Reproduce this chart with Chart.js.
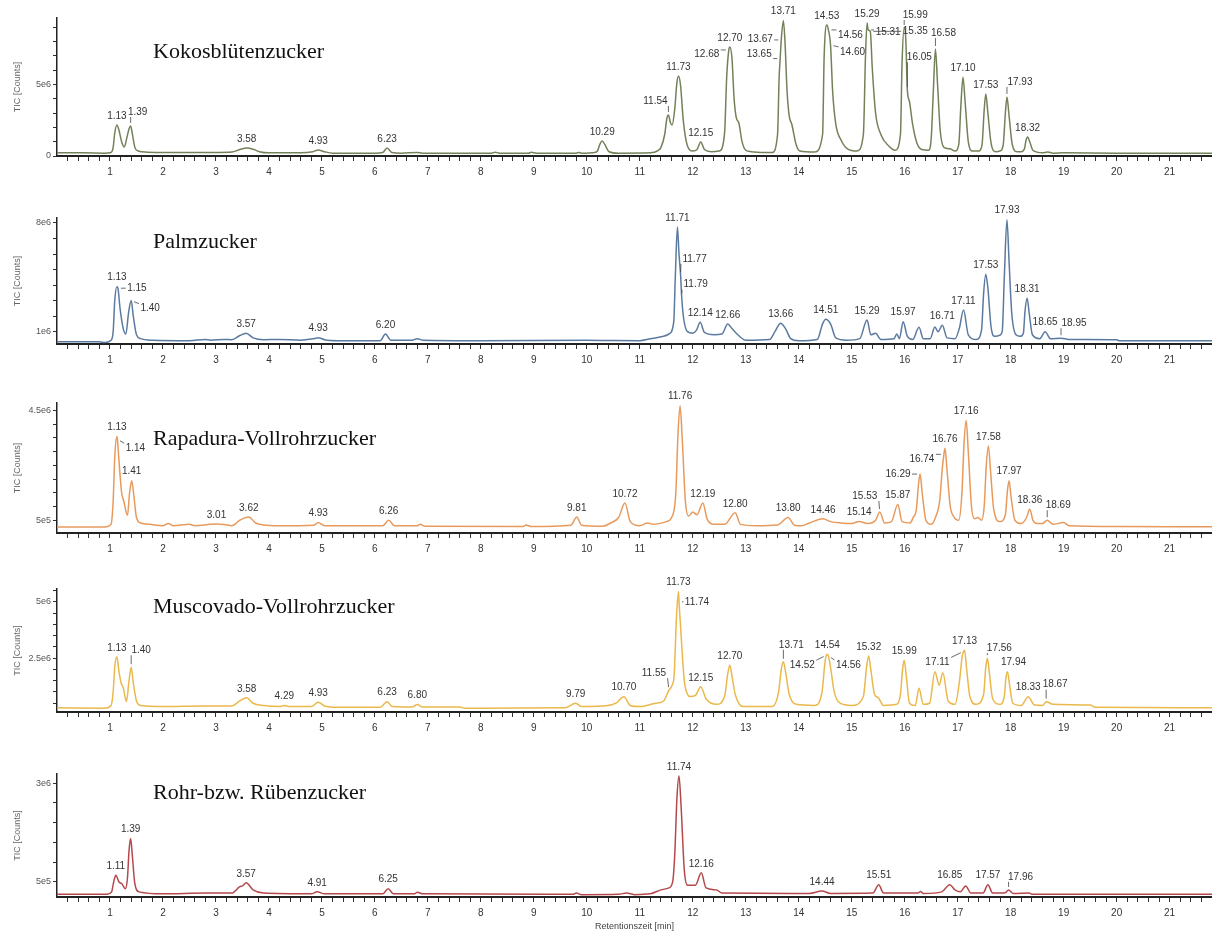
<!DOCTYPE html>
<html>
<head>
<meta charset="utf-8">
<script src="https://cdn.jsdelivr.net/npm/chart.js@4.4.1/dist/chart.umd.min.js"></script>
<style>
  html, body { margin: 0; padding: 0; background: #fff; }
  #wrap { position: relative; width: 1212px; height: 934px; overflow: hidden; }
  #wrap canvas { position: absolute; left: 0; }
</style>
</head>
<body>
<div id="wrap"></div>
<script>
// Retentionszeit [min], TIC in Mio. Counts
const kokosTrace = [
  [0, 0.22], [0.5, 0.22], [0.9, 0.2], [1.02, 0.25], [1.06, 0.6], [1.09, 1.6], [1.13, 2.16], [1.17, 1.8],
  [1.22, 1.0], [1.27, 0.63], [1.32, 1.3], [1.36, 1.9], [1.39, 2.1], [1.42, 1.6], [1.47, 0.6], [1.53, 0.35],
  [1.7, 0.27], [2.0, 0.24], [2.5, 0.24], [3.0, 0.25], [3.3, 0.28], [3.45, 0.45], [3.58, 0.56], [3.72, 0.45],
  [3.82, 0.3], [4.0, 0.22], [4.6, 0.22], [4.83, 0.3], [4.93, 0.42], [5.05, 0.3], [5.2, 0.2], [6.0, 0.2],
  [6.15, 0.25], [6.23, 0.56], [6.32, 0.24], [6.5, 0.2], [6.8, 0.25], [6.9, 0.2], [8.2, 0.2], [8.27, 0.27],
  [8.35, 0.2], [8.9, 0.2], [8.95, 0.26], [9.05, 0.2], [9.8, 0.2], [9.85, 0.25], [9.9, 0.2], [10.15, 0.25],
  [10.2, 0.35], [10.25, 0.85], [10.29, 1.05], [10.34, 0.8], [10.42, 0.3], [10.6, 0.2], [11.2, 0.22], [11.35, 0.4],
  [11.4, 0.6], [11.47, 1.5], [11.51, 2.6], [11.54, 2.86], [11.58, 2.3], [11.61, 2.16], [11.66, 3.3], [11.70, 5.1],
  [11.73, 5.58], [11.77, 4.9], [11.82, 2.5], [11.9, 0.7], [12.0, 0.35], [12.08, 0.45], [12.15, 0.98], [12.22, 0.45],
  [12.35, 0.3], [12.5, 0.35], [12.6, 1.6], [12.64, 5.5], [12.68, 7.4], [12.70, 7.6], [12.74, 6.8], [12.78, 4.0],
  [12.82, 2.7], [12.87, 2.3], [12.93, 1.0], [13.0, 0.4], [13.1, 0.3], [13.3, 0.25], [13.5, 0.25], [13.6, 1.5],
  [13.63, 5.5], [13.65, 6.8], [13.67, 8.1], [13.71, 9.44], [13.74, 8.0], [13.78, 4.5], [13.82, 2.8], [13.87, 2.2],
  [13.95, 0.8], [14.02, 0.35], [14.3, 0.28], [14.45, 1.5], [14.48, 7.0], [14.53, 9.14], [14.56, 8.8], [14.60, 7.75],
  [14.64, 4.5], [14.7, 2.2], [14.8, 1.1], [14.92, 0.5], [15.1, 0.35], [15.22, 1.5], [15.26, 7.0], [15.29, 9.28],
  [15.31, 8.8], [15.35, 8.7], [15.39, 6.0], [15.45, 3.0], [15.55, 1.5], [15.7, 0.7], [15.82, 0.4], [15.92, 1.5],
  [15.95, 6.5], [15.99, 8.93], [16.02, 8.2], [16.05, 4.6], [16.09, 3.8], [16.15, 2.2], [16.23, 0.9], [16.32, 0.45],
  [16.45, 0.4], [16.5, 1.2], [16.54, 4.5], [16.58, 7.47], [16.62, 5.0], [16.67, 1.8], [16.74, 0.6], [16.85, 0.5],
  [16.95, 0.35], [17.02, 0.8], [17.06, 3.5], [17.10, 5.5], [17.14, 3.8], [17.2, 1.0], [17.28, 0.35], [17.4, 0.35],
  [17.46, 0.8], [17.5, 3.2], [17.53, 4.33], [17.57, 3.0], [17.63, 0.9], [17.72, 0.3], [17.8, 0.35], [17.86, 0.8],
  [17.9, 3.0], [17.93, 4.12], [17.97, 2.8], [18.03, 0.8], [18.12, 0.3], [18.2, 0.3], [18.26, 0.5], [18.29, 1.1],
  [18.32, 1.33], [18.36, 1.0], [18.42, 0.4], [18.6, 0.22], [18.7, 0.28], [18.8, 0.2], [19.0, 0.22], [20.0, 0.2],
  [21.8, 0.2]
];
const palmTrace = [
  [0, 0.35], [0.8, 0.35], [0.9, 0.3], [1.02, 0.45], [1.06, 1.0], [1.09, 3.0], [1.13, 3.9], [1.15, 3.8],
  [1.19, 2.5], [1.25, 1.2], [1.3, 0.85], [1.35, 2.2], [1.40, 3.0], [1.44, 2.0], [1.5, 0.8], [1.58, 0.55],
  [1.8, 0.45], [2.5, 0.42], [2.8, 0.5], [2.9, 0.45], [3.15, 0.5], [3.3, 0.48], [3.45, 0.75], [3.57, 0.9],
  [3.7, 0.6], [3.9, 0.48], [4.2, 0.5], [4.6, 0.45], [4.85, 0.55], [4.93, 0.61], [5.05, 0.48], [5.3, 0.42],
  [6.1, 0.42], [6.2, 0.85], [6.3, 0.45], [6.7, 0.45], [6.8, 0.55], [6.9, 0.45], [8.0, 0.42], [10.0, 0.45],
  [10.5, 0.43], [11.0, 0.42], [11.2, 0.55], [11.45, 0.7], [11.55, 0.85], [11.64, 1.6], [11.67, 4.5], [11.71, 7.74],
  [11.74, 6.0], [11.77, 4.66], [11.79, 3.26], [11.83, 1.8], [11.9, 1.0], [12.0, 0.9], [12.07, 1.1], [12.14, 1.6],
  [12.22, 0.95], [12.4, 0.8], [12.55, 0.85], [12.66, 1.5], [12.74, 1.2], [12.85, 0.8], [13.0, 0.45], [13.45, 0.5],
  [13.55, 1.0], [13.66, 1.55], [13.75, 1.2], [13.85, 0.55], [14.0, 0.42], [14.35, 0.5], [14.45, 1.5], [14.51, 1.8],
  [14.6, 1.5], [14.7, 0.6], [14.9, 0.45], [15.15, 0.55], [15.29, 1.75], [15.36, 0.8], [15.45, 0.9], [15.55, 0.5],
  [15.8, 0.55], [15.85, 0.85], [15.9, 0.55], [15.97, 1.64], [16.05, 0.7], [16.15, 0.5], [16.27, 1.28], [16.35, 0.55],
  [16.48, 0.55], [16.57, 1.3], [16.63, 1.0], [16.71, 1.41], [16.8, 0.6], [16.95, 0.55], [17.03, 1.2], [17.11, 2.4],
  [17.2, 0.8], [17.35, 0.5], [17.45, 1.1], [17.49, 3.5], [17.53, 4.7], [17.57, 3.8], [17.63, 1.3], [17.7, 0.7],
  [17.78, 0.75], [17.84, 1.0], [17.88, 4.5], [17.93, 8.21], [17.97, 5.5], [18.02, 2.2], [18.1, 0.8], [18.18, 0.7],
  [18.24, 0.9], [18.27, 2.3], [18.31, 3.15], [18.35, 2.2], [18.41, 0.8], [18.55, 0.55], [18.65, 1.0], [18.75, 0.55],
  [18.95, 0.58], [19.1, 0.5], [20.0, 0.48], [20.05, 0.42], [21.8, 0.42]
];
const rapaduraTrace = [
  [0, 0.25], [0.9, 0.25], [1.02, 0.35], [1.06, 1.2], [1.09, 2.8], [1.13, 3.55], [1.14, 3.45], [1.18, 2.4],
  [1.22, 1.5], [1.26, 1.2], [1.33, 0.68], [1.37, 1.5], [1.41, 1.94], [1.45, 1.4], [1.5, 0.6], [1.58, 0.4],
  [1.75, 0.35], [2.0, 0.3], [2.1, 0.38], [2.2, 0.3], [2.5, 0.35], [2.6, 0.3], [2.9, 0.35], [3.01, 0.36],
  [3.2, 0.33], [3.3, 0.3], [3.45, 0.5], [3.62, 0.62], [3.75, 0.4], [3.9, 0.33], [4.2, 0.3], [4.85, 0.32],
  [4.93, 0.42], [5.05, 0.3], [6.15, 0.3], [6.26, 0.5], [6.37, 0.3], [6.8, 0.3], [6.85, 0.35], [6.95, 0.28],
  [8.8, 0.27], [8.85, 0.33], [8.95, 0.27], [9.7, 0.32], [9.81, 0.62], [9.9, 0.32], [10.3, 0.28], [10.45, 0.4],
  [10.6, 0.6], [10.72, 1.13], [10.82, 0.45], [11.0, 0.3], [11.15, 0.4], [11.25, 0.35], [11.5, 0.45], [11.6, 0.6],
  [11.68, 1.5], [11.72, 3.6], [11.76, 4.67], [11.8, 3.5], [11.86, 1.2], [11.92, 0.65], [12.0, 0.8], [12.08, 0.7],
  [12.19, 1.13], [12.27, 0.55], [12.4, 0.35], [12.6, 0.35], [12.80, 0.77], [12.9, 0.35], [13.2, 0.3], [13.6, 0.33],
  [13.80, 0.6], [13.92, 0.32], [14.05, 0.3], [14.2, 0.4], [14.46, 0.55], [14.6, 0.45], [14.8, 0.4], [15.0, 0.38],
  [15.14, 0.45], [15.3, 0.38], [15.45, 0.5], [15.53, 0.8], [15.62, 0.4], [15.75, 0.45], [15.87, 1.07], [15.95, 0.45],
  [16.1, 0.4], [16.16, 0.6], [16.22, 0.9], [16.26, 1.8], [16.29, 2.18], [16.33, 1.5], [16.4, 0.5], [16.5, 0.35],
  [16.6, 0.7], [16.66, 1.2], [16.71, 2.4], [16.74, 2.9], [16.76, 3.12], [16.8, 2.3], [16.86, 1.0], [16.92, 0.65],
  [17.02, 0.5], [17.08, 1.5], [17.12, 3.3], [17.16, 4.13], [17.2, 3.0], [17.26, 1.0], [17.32, 0.55], [17.38, 0.6],
  [17.45, 0.5], [17.5, 1.0], [17.54, 2.5], [17.58, 3.2], [17.62, 2.3], [17.68, 0.9], [17.8, 0.45], [17.9, 0.7],
  [17.94, 1.6], [17.97, 1.94], [18.01, 1.3], [18.08, 0.5], [18.2, 0.38], [18.3, 0.6], [18.36, 0.9], [18.42, 0.5],
  [18.5, 0.38], [18.6, 0.38], [18.69, 0.5], [18.8, 0.35], [19.0, 0.42], [19.1, 0.3], [20.0, 0.27], [21.8, 0.26]
];
const muscovadoTrace = [
  [0, 0.3], [0.9, 0.28], [1.02, 0.4], [1.06, 1.0], [1.09, 2.1], [1.13, 2.56], [1.17, 1.9], [1.21, 1.4],
  [1.25, 1.2], [1.31, 0.57], [1.36, 1.5], [1.40, 2.1], [1.44, 1.4], [1.5, 0.6], [1.58, 0.4], [2.0, 0.35],
  [2.8, 0.38], [3.3, 0.38], [3.45, 0.6], [3.58, 0.74], [3.7, 0.5], [3.9, 0.4], [4.2, 0.35], [4.29, 0.4],
  [4.4, 0.35], [4.8, 0.35], [4.93, 0.54], [5.05, 0.38], [5.3, 0.32], [6.1, 0.32], [6.23, 0.57], [6.33, 0.35],
  [6.7, 0.33], [6.80, 0.44], [6.9, 0.33], [7.6, 0.33], [7.7, 0.28], [9.6, 0.3], [9.79, 0.5], [9.9, 0.35],
  [10.4, 0.4], [10.55, 0.5], [10.70, 0.79], [10.82, 0.4], [11.0, 0.35], [11.3, 0.5], [11.45, 0.6], [11.55, 1.08],
  [11.61, 1.3], [11.65, 1.8], [11.69, 4.2], [11.73, 5.46], [11.74, 5.0], [11.78, 3.5], [11.84, 1.5], [11.9, 0.9],
  [11.95, 0.8], [12.05, 0.85], [12.15, 1.23], [12.25, 0.7], [12.45, 0.45], [12.6, 0.8], [12.66, 1.8], [12.70, 2.19],
  [12.74, 1.7], [12.8, 0.9], [12.95, 0.35], [13.5, 0.35], [13.62, 1.0], [13.67, 2.0], [13.71, 2.34], [13.75, 1.9],
  [13.82, 0.9], [13.95, 0.45], [14.3, 0.4], [14.44, 1.0], [14.49, 2.2], [14.52, 2.63], [14.54, 2.66], [14.56, 2.6],
  [14.6, 2.1], [14.67, 1.0], [14.78, 0.5], [15.0, 0.4], [15.22, 0.8], [15.28, 2.1], [15.32, 2.6], [15.36, 2.0],
  [15.43, 0.9], [15.5, 0.75], [15.6, 0.4], [15.85, 0.45], [15.92, 0.9], [15.96, 2.0], [15.99, 2.41], [16.03, 1.7],
  [16.09, 0.5], [16.2, 0.4], [16.27, 1.16], [16.35, 0.45], [16.47, 0.5], [16.57, 1.9], [16.65, 1.3], [16.72, 1.85],
  [16.82, 0.6], [16.95, 0.45], [17.04, 1.6], [17.08, 2.5], [17.11, 2.8], [17.13, 2.85], [17.17, 2.0], [17.23, 0.8],
  [17.35, 0.45], [17.49, 0.9], [17.53, 2.1], [17.56, 2.5], [17.6, 1.8], [17.66, 0.7], [17.8, 0.45], [17.88, 0.8],
  [17.91, 1.6], [17.94, 1.9], [17.98, 1.3], [18.04, 0.5], [18.2, 0.4], [18.33, 0.79], [18.45, 0.42], [18.6, 0.4],
  [18.67, 0.57], [18.8, 0.45], [19.5, 0.42], [19.6, 0.32], [21.8, 0.3]
];
const rohrTrace = [
  [0, 0.19], [0.95, 0.19], [1.03, 0.25], [1.07, 0.5], [1.11, 0.67], [1.17, 0.5], [1.22, 0.46], [1.29, 0.33],
  [1.33, 0.6], [1.36, 1.3], [1.39, 1.6], [1.42, 1.2], [1.47, 0.45], [1.55, 0.25], [2.0, 0.2], [2.8, 0.22],
  [3.3, 0.22], [3.45, 0.38], [3.5, 0.4], [3.57, 0.48], [3.7, 0.3], [3.9, 0.22], [4.8, 0.2], [4.91, 0.25],
  [5.05, 0.2], [6.15, 0.2], [6.25, 0.33], [6.35, 0.2], [6.75, 0.2], [6.8, 0.24], [6.9, 0.2], [9.75, 0.19],
  [9.8, 0.22], [9.9, 0.18], [10.6, 0.19], [10.75, 0.22], [10.9, 0.18], [11.2, 0.2], [11.4, 0.3], [11.55, 0.35],
  [11.62, 0.5], [11.66, 1.2], [11.7, 2.6], [11.74, 3.18], [11.78, 2.4], [11.84, 0.8], [11.9, 0.42], [11.95, 0.42],
  [12.05, 0.42], [12.16, 0.73], [12.25, 0.35], [12.45, 0.3], [12.55, 0.22], [14.2, 0.21], [14.44, 0.27], [14.6, 0.21],
  [15.4, 0.22], [15.51, 0.43], [15.6, 0.22], [16.25, 0.22], [16.3, 0.26], [16.35, 0.21], [16.7, 0.25], [16.85, 0.43],
  [16.95, 0.3], [17.05, 0.25], [17.15, 0.4], [17.25, 0.22], [17.48, 0.22], [17.57, 0.43], [17.66, 0.22], [17.9, 0.23],
  [17.96, 0.3], [18.05, 0.21], [18.35, 0.22], [18.4, 0.19], [21.8, 0.19]
];

// beschriftete Peaks
const kokosPeaks = ['1.13', '1.39', '3.58', '4.93', '6.23', '10.29', '11.54', '11.73', '12.15', '12.68', '12.70',
  '13.65', '13.67', '13.71', '14.53', '14.56', '14.60', '15.29', '15.31', '15.35', '15.99', '16.05', '16.58',
  '17.10', '17.53', '17.93', '18.32'];
const palmPeaks = ['1.13', '1.15', '1.40', '3.57', '4.93', '6.20', '11.71', '11.77', '11.79', '12.14', '12.66',
  '13.66', '14.51', '15.29', '15.97', '16.71', '17.11', '17.53', '17.93', '18.31', '18.65', '18.95'];
const rapaduraPeaks = ['1.13', '1.14', '1.41', '3.01', '3.62', '4.93', '6.26', '9.81', '10.72', '11.76', '12.19',
  '12.80', '13.80', '14.46', '15.14', '15.53', '15.87', '16.29', '16.74', '16.76', '17.16', '17.58', '17.97',
  '18.36', '18.69'];
const muscovadoPeaks = ['1.13', '1.40', '3.58', '4.29', '4.93', '6.23', '6.80', '9.79', '10.70', '11.55', '11.73',
  '11.74', '12.15', '12.70', '13.71', '14.52', '14.54', '14.56', '15.32', '15.99', '17.11', '17.13', '17.56',
  '17.94', '18.33', '18.67'];
const rohrPeaks = ['1.11', '1.39', '3.57', '4.91', '6.25', '11.74', '12.16', '14.44', '15.51', '16.85', '17.57', '17.96'];

// Achsenbeschriftung
const xMajorTicks = [1, 2, 3, 4, 5, 6, 7, 8, 9, 10, 11, 12, 13, 14, 15, 16, 17, 18, 19, 20, 21];
const kokosYTicks = [[0, '0'], [5, '5e6']];
const palmYTicks = [[1, '1e6'], [8, '8e6']];
const rapaduraYTicks = [[0.5, '5e5'], [4.5, '4.5e6']];
const muscovadoYTicks = [[2.5, '2.5e6'], [5, '5e6']];
const rohrYTicks = [[0.5, '5e5'], [3, '3e6']];

// Lage der Beschriftung relativ zum Peak: [dx, dy, Hinweislinie]
const kokosLabelPos = {
  '1.39': [7, -14, 1], '11.54': [-13, -14, 1], '12.68': [-22, 4, 1], '13.67': [-21, -1, 1], '13.65': [-21, -4, 1],
  '14.56': [22, 5, 1], '14.60': [22, 7, 1], '15.31': [20, 2, 1], '15.35': [45, 0, 1], '15.99': [11, -13, 1],
  '16.05': [12, -33, 1], '16.58': [8, -16, 1], '17.93': [13, -15, 1]
};
const palmLabelPos = {
  '1.15': [19, 0, 1], '1.40': [19, 8, 1], '11.77': [14, -16, 1], '11.79': [14, -12, 1], '18.95': [13, -15, 1]
};
const rapaduraLabelPos = {
  '1.14': [18, 9, 1], '15.53': [-15, -16, 1], '16.29': [-22, 0, 1], '16.74': [-22, 5, 1], '18.69': [11, -15, 1]
};
const muscovadoLabelPos = {
  '1.40': [10, -17, 1], '11.55': [-15, -17, 1], '11.74': [18, 0, 1], '13.71': [8, -17, 1], '14.52': [-24, 10, 1],
  '14.56': [20, 9, 1], '17.11': [-26, 11, 1], '17.56': [12, -10, 1], '17.94': [6, -9, 0], '18.67': [9, -17, 1]
};
const rohrLabelPos = { '17.96': [12, -13, 1] };

const panels = [
  { title: 'Kokosblütenzucker', trace: kokosTrace, peaks: kokosPeaks, labelPos: kokosLabelPos, yTicks: kokosYTicks,
    color: '#738158', top: 0, height: 190, areaTop: 18, xAxisH: 34, yMin: 0, yMax: 9.63, yStep: 1, titleY: 52 },
  { title: 'Palmzucker', trace: palmTrace, peaks: palmPeaks, labelPos: palmLabelPos, yTicks: palmYTicks,
    color: '#5b7aa0', top: 190, height: 185, areaTop: 28, xAxisH: 31, yMin: 0.206, yMax: 8.32, yStep: 1, titleY: 52 },
  { title: 'Rapadura-Vollrohrzucker', trace: rapaduraTrace, peaks: rapaduraPeaks, labelPos: rapaduraLabelPos, yTicks: rapaduraYTicks,
    color: '#e89a5c', top: 375, height: 185, areaTop: 28, xAxisH: 27, yMin: 0.035, yMax: 4.77, yStep: 0.5, titleY: 64 },
  { title: 'Muscovado-Vollrohrzucker', trace: muscovadoTrace, peaks: muscovadoPeaks, labelPos: muscovadoLabelPos, yTicks: muscovadoYTicks,
    color: '#ebb84c', top: 560, height: 185, areaTop: 29, xAxisH: 33, yMin: 0.11, yMax: 5.57, yStep: 0.5, titleY: 47 },
  { title: 'Rohr-bzw. Rübenzucker', trace: rohrTrace, peaks: rohrPeaks, labelPos: rohrLabelPos, yTicks: rohrYTicks,
    color: '#b4494c', top: 745, height: 189, areaTop: 29, xAxisH: 37, yMin: 0.12, yMax: 3.23, yStep: 0.5, titleY: 48, xTitle: true }
];

const sans = '"Liberation Sans", Arial, sans-serif';

function labelPlugin(p) {
  return {
    id: 'peakLabels',
    afterDatasetsDraw(chart) {
      const ctx = chart.ctx, x = chart.scales.x, y = chart.scales.y;
      ctx.save();
      ctx.font = '10px ' + sans;
      ctx.fillStyle = '#333';
      ctx.strokeStyle = '#444';
      ctx.lineWidth = 0.8;
      ctx.textAlign = 'center';
      ctx.textBaseline = 'middle';
      p.peaks.forEach(function (lbl) {
        const t = parseFloat(lbl);
        const pt = p.trace.find(d => Math.abs(d[0] - t) < 1e-9);
        const px = x.getPixelForValue(t), py = y.getPixelForValue(pt[1]);
        const off = p.labelPos[lbl] || [0, -9, 0];
        const lx = px + off[0], ly = py + off[1];
        ctx.fillText(lbl, lx, ly);
        if (off[2]) {
          const w = ctx.measureText(lbl).width / 2 + 1.5;
          const ex = Math.min(Math.max(px, lx - w), lx + w);
          const ey = Math.min(Math.max(py, ly - 5), ly + 5);
          const d = Math.hypot(ex - px, ey - py);
          if (d > 4) {
            ctx.beginPath();
            ctx.moveTo(px + (ex - px) * 3 / d, py + (ey - py) * 3 / d);
            ctx.lineTo(ex, ey);
            ctx.stroke();
          }
        }
      });
      ctx.font = '22px "Liberation Serif", "Times New Roman", serif';
      ctx.fillStyle = '#111';
      ctx.textAlign = 'left';
      ctx.fillText(p.title, 153, p.titleY);
      ctx.restore();
    }
  };
}

const wrap = document.getElementById('wrap');
panels.forEach(function (p) {
  const canvas = document.createElement('canvas');
  canvas.width = 1212;
  canvas.height = p.height;
  canvas.style.top = p.top + 'px';
  wrap.appendChild(canvas);

  const yTickValues = [];
  for (let v = Math.ceil(p.yMin / p.yStep - 1e-9) * p.yStep; v <= p.yMax + 1e-9; v += p.yStep) {
    yTickValues.push(Math.round(v * 1000) / 1000);
  }
  const xTickValues = [];
  for (let k = 1; k <= 108; k++) xTickValues.push(k / 5);

  new Chart(canvas.getContext('2d'), {
    type: 'line',
    data: {
      datasets: [{
        data: p.trace.map(d => ({ x: d[0], y: d[1] })),
        borderColor: p.color,
        borderWidth: 1.5,
        pointRadius: 0,
        fill: false,
        cubicInterpolationMode: 'monotone',
        tension: 0.3
      }]
    },
    options: {
      responsive: false,
      animation: false,
      layout: { padding: { top: p.areaTop, right: 0, bottom: 0, left: 0 } },
      plugins: { legend: { display: false }, tooltip: { enabled: false } },
      scales: {
        x: {
          type: 'linear', min: 0, max: 21.8, bounds: 'data',
          afterBuildTicks: s => { s.ticks = xTickValues.map(v => ({ value: v })); },
          afterFit: s => { s.height = p.xAxisH; },
          ticks: {
            autoSkip: false, maxRotation: 0, minRotation: 0, padding: 5,
            color: '#333', font: { size: 10, family: sans },
            callback: v => (xMajorTicks.indexOf(Math.round(v)) >= 0 && Math.abs(v - Math.round(v)) < 1e-6) ? String(Math.round(v)) : ''
          },
          grid: { drawOnChartArea: false, tickLength: 5, tickColor: '#333' },
          border: { color: '#222', width: 2 },
          title: p.xTitle ? { display: true, text: 'Retentionszeit [min]', color: '#444',
            font: { size: 9, family: sans }, padding: { top: 0, bottom: 2 } } : { display: false }
        },
        y: {
          type: 'linear', min: p.yMin, max: p.yMax, bounds: 'data',
          afterBuildTicks: s => { s.ticks = yTickValues.map(v => ({ value: v })); },
          afterFit: s => { s.width = 57; },
          ticks: {
            autoSkip: false, padding: 2, color: '#555', font: { size: 9, family: sans },
            callback: v => { const t = p.yTicks.find(d => Math.abs(d[0] - v) < 1e-6); return t ? t[1] : ''; }
          },
          grid: { drawOnChartArea: false, tickLength: 4, tickColor: '#333' },
          border: { color: '#222', width: 1.5 },
          title: { display: true, text: 'TIC [Counts]', color: '#666', font: { size: 9, family: sans },
            padding: { top: 12, bottom: 0 } }
        }
      }
    },
    plugins: [labelPlugin(p)]
  });
});
</script>
</body>
</html>
